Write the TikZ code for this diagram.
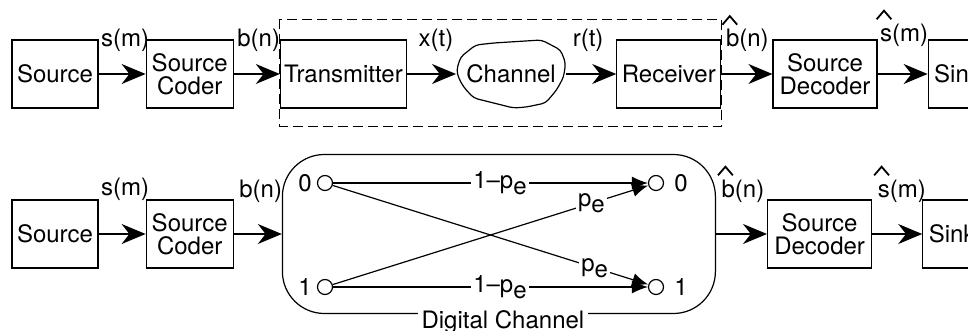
\documentclass[tikz,border=0pt]{standalone}
\usepackage{fontspec}
\setmainfont{TeX Gyre Heros}
\usetikzlibrary{arrows.meta,positioning}
\newcommand\pe{p\raisebox{-3pt}{e}}
\newcommand\hatmark[1]{\draw[line width=0.9pt] ([xshift=-1.5pt,yshift=2pt]#1.north west) -- ++(3.7pt,4.3pt) -- ++(3.7pt,-4.3pt);}
\begin{document}
\begin{tikzpicture}[x=0.5pt,y=-0.5pt,line width=0.6pt,>={Stealth[length=12pt,width=10pt]},
every node/.style={font=\fontsize{12}{11.7}\selectfont},
box/.style={draw,align=center,minimum height=34pt,inner xsep=1pt,inner ysep=2pt},
lbl/.style={inner sep=0pt,anchor=base west},
dot/.style={circle,draw,minimum size=7.5pt,inner sep=0pt},
pl/.style={fill=white,inner sep=1pt},
tip/.style={-{Latex[length=8pt,width=6.5pt]}},
dashed box/.style={dash pattern=on 5pt off 2.5pt,line width=0.5pt}]
\useasboundingbox (0,0) rectangle (968,331);
\clip (0,0) rectangle (968,331);
\node[box,minimum width=43pt] (src) at (55,74) {Source};
\node[box,minimum width=43.5pt,right=23.5pt of src] (cod) {Source\\Coder};
\node[box,minimum width=63pt,right=23pt of cod] (tx) {Transmitter};
\node[minimum width=54.5pt,minimum height=34pt,inner sep=0pt,right=24.5pt of tx] (chan) {Channel};
\node[box,minimum width=52pt,right=25pt of chan] (rx) {Receiver};
\node[box,minimum width=52pt,right=25.5pt of rx] (dec) {Source\\Decoder};
\node[box,inner xsep=3pt,right=25pt of dec] (snk) {Sink};
\draw[shift={(chan.center)},rounded corners=2pt] (-54.5,-4) -- (-50.5,-17) -- (-35.5,-29) -- (-17.5,-31)
  -- (30.5,-34) -- (49.5,-24) -- (54.5,-11) -- (52.5,3) -- (45.5,16) -- (34.5,29) -- (15.5,33)
  -- (2.5,34) -- (-17.5,29) -- (-37.5,24) -- (-47.5,13) -- (-52.5,4) -- cycle;
\draw[dashed box] ([yshift=10pt]tx.north west) rectangle ([yshift=-9pt]rx.south east);
\draw[->] (src)--(cod);\draw[->] (cod)--(tx);\draw[->] (tx)--(chan);
\draw[->] (chan)--(rx);\draw[->] (rx)--(dec);\draw[->] (dec)--(snk);
\node[lbl] at ([xshift=1pt,yshift=-3.7pt]src.north east) {s(m)};
\node[lbl] at ([xshift=1.5pt,yshift=-3.7pt]cod.north east) {b(n)};
\node[lbl] at ([xshift=5.5pt,yshift=-3.7pt]tx.north east) {x(t)};
\node[lbl] at ([xshift=3pt,yshift=-3.7pt]chan.north east) {r(t)};
\node[lbl] (bh1) at ([xshift=2pt,yshift=-3.7pt]rx.north east) {b(n)};
\node[lbl] (sh1) at ([xshift=1pt,yshift=-1pt]dec.north east) {s(m)};
\hatmark{bh1}\hatmark{sh1}
\node[box,minimum width=43pt] (src2) at (55,234) {Source};
\node[box,minimum width=43.5pt,right=23.5pt of src2] (cod2) {Source\\Coder};
\node[draw,rounded corners=21pt,minimum width=216.5pt,minimum height=79.5pt,right=24pt of cod2] (dch) {};
\node[box,minimum width=52pt,right=25.5pt of dch] (dec2) {Source\\Decoder};
\node[box,inner xsep=3pt,right=25pt of dec2] (snk2) {Sink};
\node[fill=white,inner sep=2pt] (dlab) at ([xshift=2pt,yshift=-4pt]dch.south) {Digital Channel};
\node[dot,label={[label distance=-1pt]left:0}] (i0) at (325,183) {};
\node[dot,label={[label distance=-1pt]left:1}] (i1) at (325,287) {};
\node[dot,label={[label distance=1.5pt]right:0}] (o0) at (656,183) {};
\node[dot,label={[label distance=1.5pt]right:1}] (o1) at (656,287) {};
\draw[tip] (i0) -- node[pl,pos=0.53] {1--\pe} (o0);
\draw[tip] (i1) -- node[pl,pos=0.53] {1--\pe} (o1);
\draw[tip] (i0) -- node[pl,pos=0.83] {\pe} (o1);
\draw[tip] (i1) -- node[pl,pos=0.82] {\pe} (o0);
\draw[->] (src2)--(cod2);\draw[->] (cod2)--(dch);\draw[->] (dch)--(dec2);\draw[->] (dec2)--(snk2);
\node[lbl] at ([xshift=1pt,yshift=2pt]src2.north east) {s(m)};
\node[lbl] at ([xshift=2.5pt,yshift=1pt]cod2.north east) {b(n)};
\node[lbl] (bh2) at ([xshift=2.5pt,yshift=1pt]dch.east |- dec2.north) {b(n)};
\node[lbl] (sh2) at ([xshift=2.5pt,yshift=1pt]dec2.north east) {s(m)};
\hatmark{bh2}\hatmark{sh2}
\end{tikzpicture}
\end{document}
